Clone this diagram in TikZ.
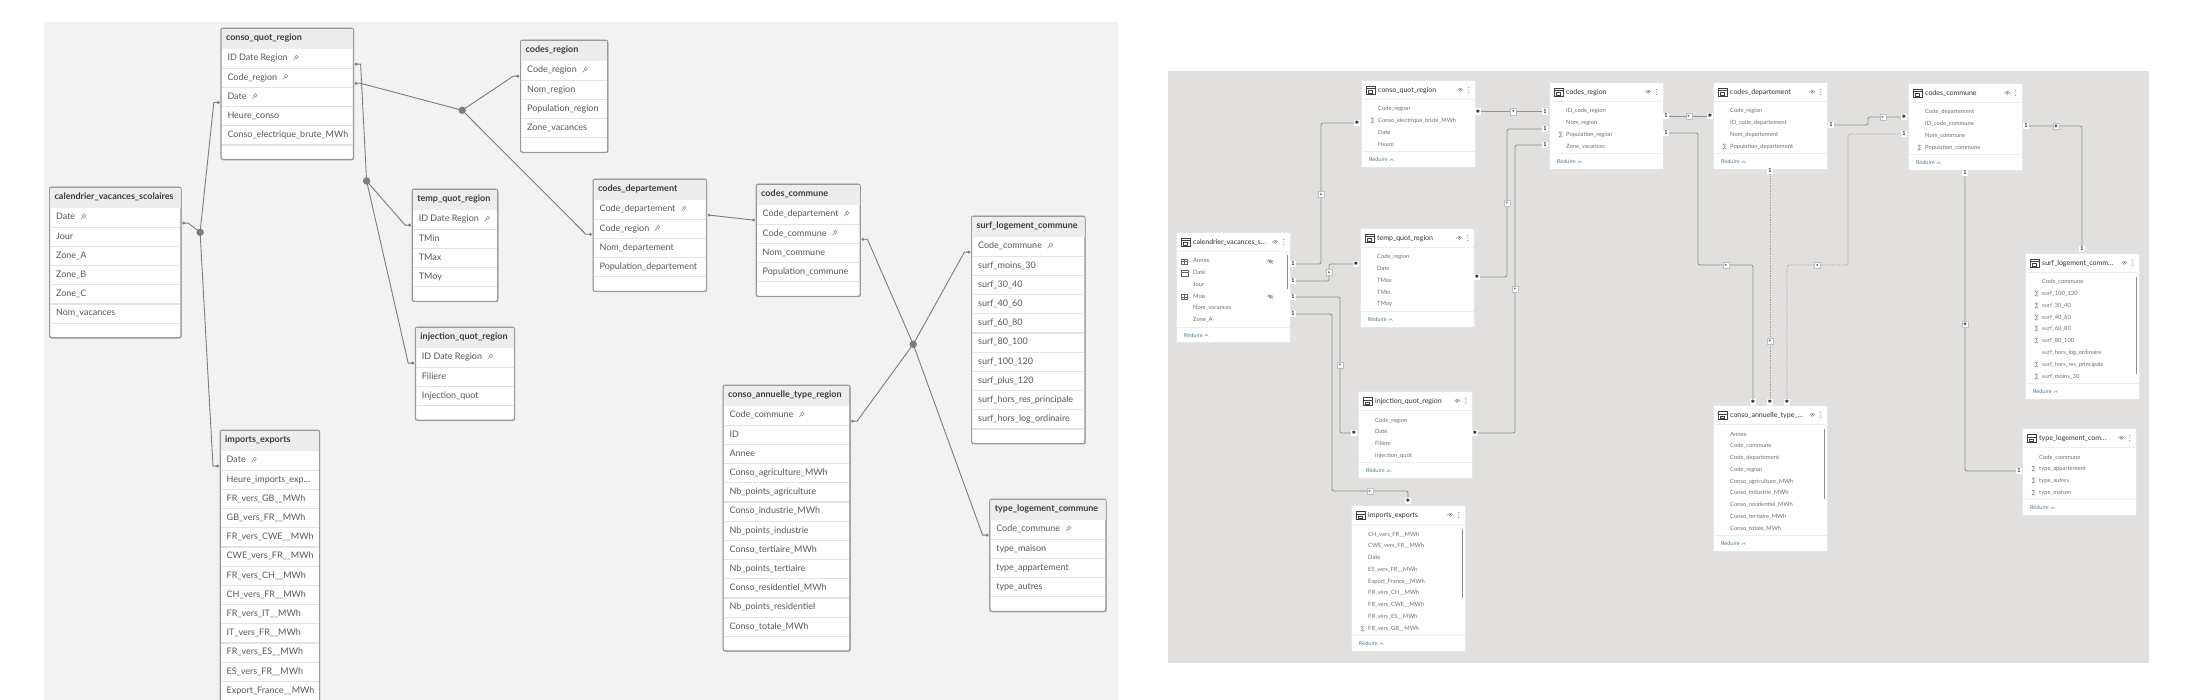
\documentclass[tikz,border=0pt]{standalone}
\usepackage{fontspec}
\setmainfont{Lato}
\newfontfamily\djv{DejaVu Sans}
\usetikzlibrary{shadows,calc}
\pgfdeclarelayer{bg}
\pgfdeclarelayer{lines}
\pgfsetlayers{bg,lines,main}

\definecolor{lpanelc}{HTML}{F2F2F2}
\definecolor{rpanelc}{HTML}{E1E0DF}
\definecolor{qborderc}{HTML}{9A9A9A}
\definecolor{qheadc}{HTML}{EDEDED}
\definecolor{qsepc}{HTML}{E3E3E3}
\definecolor{qtextc}{HTML}{575757}
\definecolor{qtitlec}{HTML}{3C3C3C}
\definecolor{qlinec}{HTML}{7C7C7C}
\definecolor{qkeyc}{HTML}{8A8A8A}
\definecolor{ptextc}{HTML}{6E6E6E}
\definecolor{ptitlec}{HTML}{2E2E2E}
\definecolor{plinec}{HTML}{8E8E8E}
\definecolor{predc}{HTML}{4D7D8C}

\tikzset{
 qbox/.style={draw=qborderc, fill=white, rounded corners=2pt, line width=0.8pt, inner sep=0pt,
   drop shadow={shadow xshift=0.8pt, shadow yshift=-1pt, opacity=0.25, fill=black}},
 qtitle/.style={font=\fontsize{9}{10}\selectfont\bfseries, text=qtitlec, inner sep=0pt, text height=6.6pt, text depth=1.9pt},
 qrow/.style={font=\fontsize{9}{10}\selectfont, text=qtextc, inner sep=0pt, text height=6.6pt, text depth=1.9pt},
 qsep/.style={draw=qsepc, line width=1.1pt},
 qconn/.style={draw=qlinec, line width=0.9pt},
 hub/.style={circle, fill=qlinec, minimum size=7.4pt, inner sep=0pt},
 pcard/.style={fill=white, draw=black!10, line width=0.3pt, inner sep=0pt},
 ptitle/.style={font=\fontsize{7}{8}\selectfont, text=ptitlec, inner sep=0pt, text height=5pt, text depth=1.5pt},
 prow/.style={font=\fontsize{5.8}{7}\selectfont, text=ptextc, inner sep=0pt, text height=4.3pt, text depth=1.3pt},
 predtxt/.style={font=\fontsize{5.5}{6}\selectfont, text=predc, inner sep=0pt},
 pconn/.style={draw=plinec, line width=0.8pt, rounded corners=2pt},
 pdots/.style={draw=plinec!85, line width=0.8pt, rounded corners=2pt, dash pattern=on 0.8pt off 0.9pt},
 pm/.style={fill=white, inner sep=0pt, minimum width=5.5pt, minimum height=6.5pt, font=\fontsize{5.5}{6}\selectfont\bfseries, text=black!85},
 pa/.style={fill=white, draw=black!25, line width=0.3pt, inner sep=0pt, minimum size=6.5pt, font=\djv\fontsize{4.5}{4.5}\selectfont, text=black!65},
 scroll/.style={draw=black!45, line width=1.3pt},
 keyico/.pic={\draw[qkeyc, line width=0.55pt] (1.2,-1.2) circle (1.7pt); \draw[qkeyc, line width=0.55pt] (0,0) -- (-2.2,2.2);},
 tabico/.pic={\draw[black!75, line width=0.5pt] (-4.5,-4) rectangle (4.5,4); \draw[black!75, line width=0.4pt] (-4.5,-1.8) -- (4.5,-1.8); \draw[black!75, line width=0.4pt] (-2,0.2) rectangle (2,2.6);},
 eyeico/.pic={\draw[black!55, line width=0.4pt] (-3,0.5) .. controls (-1.5,-2.3) and (1.5,-2.3) .. (3,0.5); \draw[black!55, line width=0.4pt] (0,0.4) circle (1.1pt);},
 eyeslash/.pic={\draw[black!55, line width=0.4pt] (-3,0.5) .. controls (-1.5,-2.3) and (1.5,-2.3) .. (3,0.5); \draw[black!55, line width=0.4pt] (0,0.4) circle (1.1pt); \draw[black!55, line width=0.4pt] (-2.5,-2.5) -- (2.5,2.5);},
 vdots/.pic={\fill[black!70] (0,-2.6) circle (0.5pt) (0,0) circle (0.5pt) (0,2.6) circle (0.5pt);},
 hierico/.pic={\draw[black!60, line width=0.35pt] (-3,-2.5) rectangle (3,2.5) (-3,0) -- (3,0) (0,-2.5) -- (0,2.5);},
 calico/.pic={\draw[black!60, line width=0.35pt] (-3.5,-2.8) rectangle (3.5,2.8) (-3.5,-1.2) -- (3.5,-1.2);},
}

% left (Qlik) table: id, x, y, width, nrows, title, rows, nkeys
\newcommand\qtab[8]{%
 \pgfmathsetlengthmacro\qh{21pt+#5*19.2pt+14pt}%
 \node[qbox, minimum width=#4pt, minimum height=\qh, anchor=north west] (#1) at (#2,#3) {};
 \fill[qheadc] ([xshift=0.7pt,yshift=-0.7pt]#1.north west) rectangle ([xshift=-0.7pt,yshift=-21pt]#1.north east);
 \node[qtitle, anchor=west] (#1-t) at ([xshift=5pt,yshift=-10.5pt]#1.north west) {#6};
 \foreach \r [count=\i] in {#7} {%
  \node[qrow, anchor=west] (#1-r\i) at ([xshift=6.5pt,yshift={-21pt-(\i-0.5)*19.2pt}]#1.north west) {\r};
  \ifnum\i>#8 \else \pic at ($(#1-r\i.east)+(7.5,-0.5)$) {keyico};\fi
  \draw[qsep] ([xshift=1pt,yshift={-21pt-\i*19.2pt}]#1.north west) -- ([xshift=-1pt,yshift={-21pt-\i*19.2pt}]#1.north east);
 }%
 \draw[qborderc, line width=0.8pt, rounded corners=2pt] (#1.north west) rectangle (#1.south east);
}
% link from a row's right / left side to a hub
\newcommand\qR[3]{%
 \coordinate (#1-p#2) at ($(#1.east |- #1-r#2)+(2.5,5.5)$);
 \draw[qconn] (#1-p#2) -- ++(4.5,0) -- (#3.center);
 \fill[qlinec] (#1-p#2) circle (1.6pt);}
\newcommand\qL[3]{%
 \coordinate (#1-p#2) at ($(#1.west |- #1-r#2)+(-2.5,5.5)$);
 \draw[qconn] (#1-p#2) -- ++(-4.5,0) -- (#3.center);
 \fill[qlinec] (#1-p#2) circle (1.6pt);}

\newcommand\Sg{\llap{{\djv ∑}\hspace{3.5pt}}}

% right (Power BI) card: id, x, y, nrows, title, rows
\newcommand\ptab[6]{%
 \pgfmathsetlengthmacro\ph{40pt+#4*11.75pt}%
 \node[pcard, minimum width=114pt, minimum height=\ph, anchor=north west] (#1) at (#2,#3) {};
 \pic at ($(#1.north west)+(9.5,10.5)$) {tabico};
 \node[ptitle, anchor=west] (#1-t) at ($(#1.north west)+(17,10.5)$) {#5};
 \pic at ($(#1.north east)+(-15,10)$) {eyeico};
 \pic at ($(#1.north east)+(-6.5,10)$) {vdots};
 \draw[black!7, line width=0.5pt] ($(#1.north west)+(0,19)$) -- ($(#1.north east)+(0,19)$);
 \foreach \r [count=\i] in {#6} {%
  \node[prow, anchor=west] (#1-r\i) at ($(#1.north west)+(17,{29.5+(\i-1)*11.75})$) {\r};
 }%
 \draw[black!7, line width=0.5pt] ($(#1.south west)+(0,-16)$) -- ($(#1.south east)+(0,-16)$);
 \node[predtxt, anchor=west] (#1-red) at ($(#1.south west)+(8,-7.5)$) {Réduire};
 \draw[predc, line width=0.35pt] ($(#1-red.east)+(2,1)$) -- ++(1.8,-1.8) -- ++(1.8,1.8);
}

\begin{document}
\begin{tikzpicture}[x=1pt,y=-1pt]
\useasboundingbox (0,0) rectangle (2200,700);
\begin{pgfonlayer}{bg}
\fill[white] (0,0) rectangle (2200,700);
\fill[lpanelc] (44,22) rectangle (1118,700);
\fill[rpanelc] (1168,71) rectangle (2149,663);
\end{pgfonlayer}

% ---------------- left panel (Qlik data model) ----------------
\qtab{cq}{220.8}{28}{132}{5}{conso\_quot\_region}{ID Date Region, Code\_region, Date, Heure\_conso, Conso\_electrique\_brute\_MWh}{3}
\qtab{cr}{520.4}{40}{86.7}{4}{codes\_region}{Code\_region, Nom\_region, Population\_region, Zone\_vacances}{1}
\qtab{cal}{49.4}{187}{131}{6}{calendrier\_vacances\_scolaires}{Date, Jour, Zone\_A, Zone\_B, Zone\_C, Nom\_vacances}{1}
\qtab{tq}{412.1}{189}{85}{4}{temp\_quot\_region}{ID Date Region, TMin, TMax, TMoy}{1}
\qtab{iq}{415.2}{327}{98.7}{3}{injection\_quot\_region}{ID Date Region, Filiere, Injection\_quot}{1}
\qtab{ie}{220}{430}{99}{13}{imports\_exports}{Date, Heure\_imports\_exp…, FR\_vers\_GB\_\_MWh, GB\_vers\_FR\_\_MWh, FR\_vers\_CWE\_\_MWh, CWE\_vers\_FR\_\_MWh, FR\_vers\_CH\_\_MWh, CH\_vers\_FR\_\_MWh, FR\_vers\_IT\_\_MWh, IT\_vers\_FR\_\_MWh, FR\_vers\_ES\_\_MWh, ES\_vers\_FR\_\_MWh, Export\_France\_\_MWh}{1}
\qtab{cd}{592.9}{179}{113}{4}{codes\_departement}{Code\_departement, Code\_region, Nom\_departement, Population\_departement}{2}
\qtab{cc}{756}{184}{103.6}{4}{codes\_commune}{Code\_departement, Code\_commune, Nom\_commune, Population\_commune}{2}
\qtab{sl}{971.4}{216}{113}{10}{surf\_logement\_commune}{Code\_commune, surf\_moins\_30, surf\_30\_40, surf\_40\_60, surf\_60\_80, surf\_80\_100, surf\_100\_120, surf\_plus\_120, surf\_hors\_res\_principale, surf\_hors\_log\_ordinaire}{1}
\qtab{ca}{722.9}{385}{126.4}{12}{conso\_annuelle\_type\_region}{Code\_commune, ID, Annee, Conso\_agriculture\_MWh, Nb\_points\_agriculture, Conso\_industrie\_MWh, Nb\_points\_industrie, Conso\_tertiaire\_MWh, Nb\_points\_tertiaire, Conso\_residentiel\_MWh, Nb\_points\_residentiel, Conso\_totale\_MWh}{1}
\qtab{tl}{989.6}{499}{115.8}{4}{type\_logement\_commune}{Code\_commune, type\_maison, type\_appartement, type\_autres}{1}

\node[hub] (hA) at (200.1,232.3) {};
\node[hub] (hB) at (366.6,181) {};
\node[hub] (hC) at (462.2,110.3) {};
\node[hub] (hD) at (913.2,344.3) {};

\begin{pgfonlayer}{lines}
\qR{cal}{1}{hA} \qL{cq}{3}{hA} \qL{ie}{1}{hA}
\qR{cq}{1}{hB} \qL{tq}{1}{hB} \qL{iq}{1}{hB}
\qR{cq}{2}{hC} \qL{cr}{1}{hC} \qL{cd}{2}{hC}
\qR{cc}{2}{hD} \qL{sl}{1}{hD} \qR{ca}{1}{hD} \qL{tl}{1}{hD}
\coordinate (cd-p1) at ($(cd.east |- cd-r1)+(2.5,5.5)$);
\coordinate (cc-p1) at ($(cc.west |- cc-r1)+(-2.5,5.5)$);
\draw[qconn] (cd-p1) -- (cc-p1);
\fill[qlinec] (cd-p1) circle (1.6pt) (cc-p1) circle (1.6pt);
\end{pgfonlayer}

% ---------------- right panel (Power BI model) ----------------
\ptab{pcq}{1361}{80}{4}{conso\_quot\_region}{Code\_region, \Sg Conso\_electrique\_brute\_MWh, Date, Heure}
\ptab{pcal}{1176}{232}{6}{calendrier\_vacances\_s…}{Annee, Date, Jour, Mois, Nom\_vacances, Zone\_A}
\ptab{ptq}{1360}{228}{5}{temp\_quot\_region}{Code\_region, Date, TMax, TMin, TMoy}
\ptab{piq}{1358}{391}{4}{injection\_quot\_region}{Code\_region, Date, Filiere, Injection\_quot}
\ptab{pie}{1351}{505}{9}{imports\_exports}{CH\_vers\_FR\_\_MWh, CWE\_vers\_FR\_\_MWh, Date, ES\_vers\_FR\_\_MWh, Export\_France\_\_MWh, FR\_vers\_CH\_\_MWh, FR\_vers\_CWE\_\_MWh, FR\_vers\_ES\_\_MWh, \Sg FR\_vers\_GB\_\_MWh}
\ptab{pcr}{1549}{82}{4}{codes\_region}{ID\_code\_region, Nom\_region, \Sg Population\_region, Zone\_vacances}
\ptab{pcd}{1713}{82}{4}{codes\_departement}{Code\_region, ID\_code\_departement, Nom\_departement, \Sg Population\_departement}
\ptab{pcc}{1908}{83}{4}{codes\_commune}{Code\_departement, ID\_code\_commune, Nom\_commune, \Sg Population\_commune}
\ptab{psl}{2025}{253}{9}{surf\_logement\_comm…}{Code\_commune, \Sg surf\_100\_120, \Sg surf\_30\_40, \Sg surf\_40\_60, \Sg surf\_60\_80, \Sg surf\_80\_100, surf\_hors\_log\_ordinaire, \Sg surf\_hors\_res\_principale, \Sg surf\_moins\_30}
\ptab{ptl}{2022}{428}{4}{type\_logement\_com…}{Code\_commune, \Sg type\_appartement, \Sg type\_autres, \Sg type\_maison}
\ptab{pca}{1713}{405}{9}{conso\_annuelle\_type\_…}{Annee, Code\_commune, Code\_departement, Code\_region, Conso\_agriculture\_MWh, Conso\_industrie\_MWh, Conso\_residentiel\_MWh, Conso\_tertiaire\_MWh, Conso\_totale\_MWh}

% calendar card row icons
\pic at ($(pcal-r1.west)+(-8.5,0)$) {hierico};
\pic at ($(pcal-r2.west)+(-8.5,0)$) {calico};
\pic at ($(pcal-r4.west)+(-8.5,0)$) {hierico};
\pic at ($(pcal.east |- pcal-r1)+(-20,0)$) {eyeslash};
\pic at ($(pcal.east |- pcal-r4)+(-20,0)$) {eyeslash};

% scrollbars
\draw[scroll] ($(pcal.north east)+(-3,23)$) -- ++(0,34);
\draw[scroll] ($(pie.north east)+(-3,24)$) -- ++(0,69);
\draw[scroll] ($(psl.north east)+(-2.5,24)$) -- ++(0,97);
\draw[scroll] ($(pca.north east)+(-3,24)$) -- ++(0,70);

% cardinality markers
\newcommand\Ast{{\djv\fontsize{5}{5}\selectfont ✱}}
\node[pm] (m1a) at (1293,264) {1};   \node[pm] (m1b) at (1357,123) {\Ast};
\node[pm] (m2a) at (1293,281) {1};   \node[pm] (m2b) at (1356,264) {\Ast};
\node[pm] (m3a) at (1293,297) {1};   \node[pm] (m3b) at (1354,433) {\Ast};
\node[pm] (m4a) at (1293,314) {1};   \node[pm] (m4b) at (1408,501) {\Ast};
\node[pm] (m5a) at (1478,111.5) {\Ast}; \node[pm] (m5b) at (1545,111.5) {1};
\node[pm] (m6a) at (1477,277) {\Ast};   \node[pm] (m6b) at (1545,129) {1};
\node[pm] (m7a) at (1475,433) {\Ast};   \node[pm] (m7b) at (1545,145) {1};
\node[pm] (m8a) at (1666,116) {1};   \node[pm] (m8b) at (1710,116) {\Ast};
\node[pm] (m9a) at (1666,133) {1};   \node[pm] (m9b) at (1753,402) {\Ast};
\node[pm] (m10a) at (1770,171) {1};  \node[pm] (m10b) at (1770,402) {\Ast};
\node[pm] (m11a) at (1831,125) {1};  \node[pm] (m11b) at (1904,117) {\Ast};
\node[pm] (m12a) at (1904,134) {1};  \node[pm] (m12b) at (1787,402) {\Ast};
\node[pm] (m13a) at (2026,126) {1};  \node[pm] (m13b) at (2082,249) {1};
\node[pm] (m14a) at (1965,173) {1};  \node[pm] (m14b) at (2019,471) {1};

% filter direction markers
\node[pa] (a1) at (1321,194) {▴};
\node[pa] (a2) at (1329,272) {▴};
\node[pa] (a3) at (1340,365) {▾};
\node[pa] (a4) at (1370,491) {▸};
\node[pa] (a5) at (1513,111.5) {◂};
\node[pa] (a6) at (1507,203) {▾};
\node[pa] (a7) at (1515,289) {▾};
\node[pa] (a8) at (1689,116) {▸};
\node[pa] (a9) at (1726,265) {▸};
\node[pa] (a10) at (1770,341) {▾};
\node[pa] (a11) at (1883,117) {▸};
\node[pa] (a12) at (1817,265) {◂};
\node[pa] (a13) at (2056,126) {◆};
\node[pa] (a14) at (1965,324) {◆};

\coordinate (k4) at (1332,491);
\coordinate (k9) at (1698,265);
\coordinate (k11) at (1868,121);
\coordinate (k12) at (1848,265);

\begin{pgfonlayer}{lines}
\draw[pconn] (m1a) -| (a1.center) |- (m1b);
\draw[pconn] (m2a) -| (a2.center) |- (m2b);
\draw[pconn] (m3a) -| (a3.center) |- (m3b);
\draw[pconn] (m4a) -| (k4) -| (m4b);
\draw[pconn] (m5a) -- (m5b);
\draw[pconn] (m6a) -| (a6.center) |- (m6b);
\draw[pconn] (m7a) -| (a7.center) |- (m7b);
\draw[pconn] (m8a) -- (m8b);
\draw[pconn] (m9a) -| (k9) -| (m9b);
\draw[pdots] (m10a) -- (m10b);
\draw[pconn] (m11a) -| (k11) |- (m11b);
\draw[pdots] (m12a) -| (k12) -| (m12b);
\draw[pconn] (m13a) -| (m13b);
\draw[pconn] (m14a) |- (m14b);
\end{pgfonlayer}
\end{tikzpicture}
\end{document}
